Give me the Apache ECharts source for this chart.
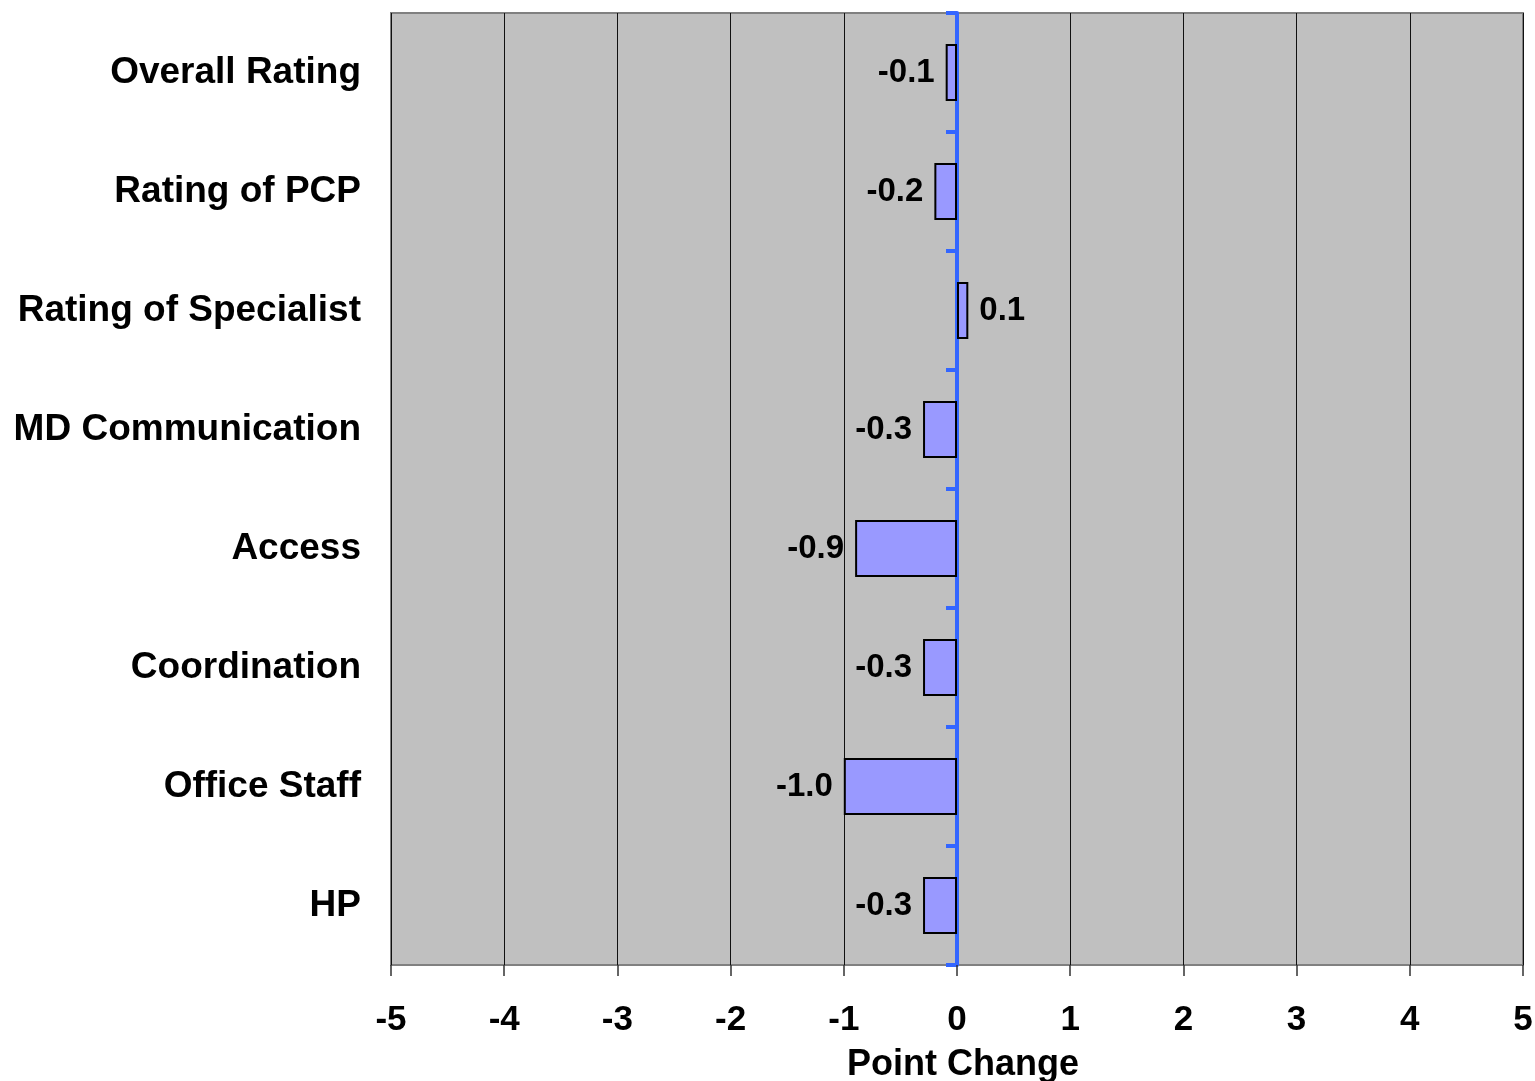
<!DOCTYPE html>
<html>
<head>
<meta charset="utf-8">
<script src="https://cdn.jsdelivr.net/npm/echarts@6/dist/echarts.min.js"></script>
<style>
html,body{margin:0;padding:0;background:#fff;}
#chart{width:1535px;height:1081px;}
</style>
</head>
<body>
<div id="chart"></div>
<script>
const categories = ["Overall Rating","Rating of PCP","Rating of Specialist","MD Communication","Access","Coordination","Office Staff","HP"];
const values = [-0.1,-0.2,0.1,-0.3,-0.9,-0.3,-1.0,-0.3];
const xMin = -5, xMax = 5, xStep = 1;
const axisName = "Point Change";

const chart = echarts.init(document.getElementById('chart'));
const font = 'Liberation Sans, Arial, sans-serif';
chart.setOption({
  animation: false,
  grid: {
    left: 391, right: 12, top: 13, bottom: 116,
    outerBoundsMode: 'none', containLabel: false,
    show: true, backgroundColor: '#c0c0c0', borderColor: '#808080', borderWidth: 2
  },
  xAxis: {
    type: 'value', min: xMin, max: xMax, interval: xStep,
    name: axisName, nameLocation: 'middle', nameGap: 82,
    nameTextStyle: {fontFamily: font, fontWeight: 'bold', fontSize: 36, color: '#000', padding: [0, 0, 0, 12]},
    axisLine: {onZero: false, lineStyle: {color: '#333', width: 2}},
    axisTick: {show: true, length: 11, lineStyle: {color: '#333', width: 1.5}},
    axisLabel: {fontFamily: font, fontWeight: 'bold', fontSize: 35, color: '#000', margin: 38},
    splitLine: {show: true, lineStyle: {color: '#111', width: 1}}
  },
  yAxis: [{
    type: 'category', data: categories, inverse: true,
    axisLine: {show: false, onZero: false},
    axisTick: {show: false},
    axisLabel: {fontFamily: font, fontWeight: 'bold', fontSize: 37, color: '#000', margin: 30, padding: [6, 0, 0, 0]},
    splitLine: {show: false}
  }, {
    type: 'category', data: categories, inverse: true, position: 'left',
    axisLine: {show: true, onZero: true, lineStyle: {color: '#3366ff', width: 4}},
    axisTick: {show: true, length: 11, lineStyle: {color: '#3366ff', width: 4}},
    axisLabel: {show: false},
    splitLine: {show: false}
  }],
  series: [{
    type: 'bar', yAxisIndex: 0,
    data: values.map(v => ({
      value: v,
      label: {position: v < 0 ? 'left' : 'right'}
    })),
    barWidth: '48%',
    itemStyle: {color: '#9999ff', borderColor: '#000', borderWidth: 2},
    label: {
      show: true, distance: 11, padding: [6, 0, 0, 0],
      fontFamily: font, fontWeight: 'bold', fontSize: 33, color: '#000',
      formatter: p => p.value.toFixed(1)
    },
    z: 1
  }]
});
</script>
</body>
</html>
